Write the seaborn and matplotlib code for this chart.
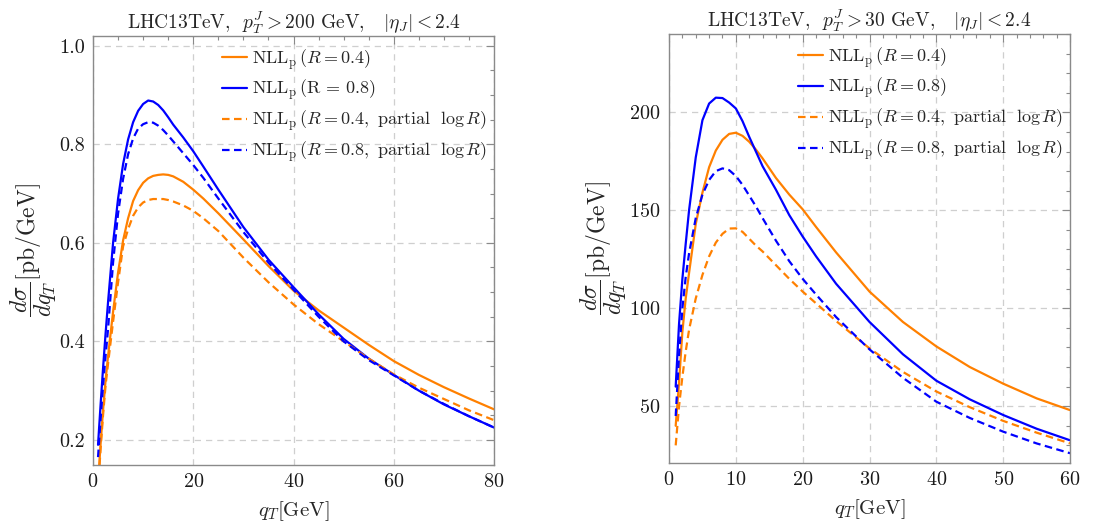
import matplotlib
matplotlib.use("Agg")
import matplotlib.pyplot as plt
from matplotlib.ticker import MultipleLocator
import pandas as pd
import seaborn as sns

# ── Data ─────────────────────────────────────────────────────────────────────

q_left = [1, 1.5, 2, 2.5, 3, 4, 5, 6, 7, 8, 9, 10, 11, 12, 13, 14, 15, 16,
          18, 20, 22, 25, 30, 35, 40, 45, 50, 55, 60, 65, 70, 75, 80]

left_r04 = [0.11, 0.19, 0.26, 0.32, 0.37, 0.46, 0.54, 0.605, 0.65, 0.685,
            0.707, 0.722, 0.731, 0.736, 0.738, 0.739, 0.738, 0.735, 0.724,
            0.708, 0.69, 0.66, 0.607, 0.553, 0.503, 0.463, 0.428, 0.393,
            0.36, 0.332, 0.307, 0.284, 0.262]
left_r08 = [0.19, 0.27, 0.345, 0.415, 0.48, 0.60, 0.69, 0.76, 0.81, 0.845,
            0.868, 0.882, 0.889, 0.887, 0.88, 0.869, 0.855, 0.84, 0.814,
            0.786, 0.755, 0.708, 0.632, 0.566, 0.51, 0.455, 0.405, 0.365,
            0.332, 0.30, 0.272, 0.248, 0.225]
left_r04_part = [0.10, 0.18, 0.25, 0.31, 0.355, 0.44, 0.52, 0.593, 0.628,
                 0.655, 0.672, 0.682, 0.687, 0.689, 0.689, 0.689, 0.687,
                 0.684, 0.676, 0.665, 0.65, 0.624, 0.57, 0.52, 0.475, 0.435,
                 0.40, 0.365, 0.333, 0.306, 0.283, 0.26, 0.24]
left_r08_part = [0.165, 0.24, 0.31, 0.37, 0.425, 0.56, 0.66, 0.73, 0.78,
                 0.812, 0.832, 0.841, 0.845, 0.844, 0.838, 0.829, 0.818,
                 0.806, 0.782, 0.758, 0.732, 0.69, 0.622, 0.56, 0.505, 0.45,
                 0.40, 0.362, 0.331, 0.30, 0.273, 0.248, 0.225]

q_right = [1, 1.5, 2, 2.5, 3, 4, 5, 6, 7, 8, 9, 10, 11, 12, 13, 14, 16, 18,
           20, 22, 25, 30, 35, 40, 45, 50, 55, 60]

right_r04 = [40, 62, 88, 105, 118, 143, 159, 172, 180.5, 186, 189, 189.6,
             188, 185, 181, 176.5, 166.5, 158, 150.5, 141.5, 128.5, 108.5,
             93, 80.5, 70, 61.5, 54, 48]
right_r08 = [60, 92, 115, 133, 150, 177, 196, 204.5, 207.5, 207.3, 205,
             202, 195.5, 187.5, 180, 172.5, 160.5, 147.5, 136.6, 126.5,
             112.5, 93, 76.5, 63, 53.5, 45.5, 38.5, 32.6]
right_r04_part = [30, 50, 65, 78, 89, 105, 117, 126.5, 133.5, 138, 140.7,
                  140.8, 139, 135.5, 132, 129, 122, 115, 108.5, 102.5, 93.5,
                  79.5, 67.5, 57.5, 49.5, 42.5, 36.5, 31]
right_r08_part = [45, 76, 100, 116, 128, 146, 158, 165.5, 170, 171.4, 170.5,
                  167.5, 163, 157.5, 152, 146, 134.5, 124, 115, 107, 95.5,
                  79, 64.5, 52.3, 44, 37, 31, 26]

ORANGE = "#FF8000"
BLUE = "#0000FF"
DASH = (0, (3.4, 2.0))

NLL = r"$\mathrm{NLL}_{\mathrm{p}}\,"


def draw_panel(ax, q, series, labels, title, xlim, ylim, xmaj, xmin, ymin,
               yticks, ylab_x):
    styles = [(ORANGE, "-"), (BLUE, "-"), (ORANGE, DASH), (BLUE, DASH)]
    for vals, lab, (col, ls) in zip(series, labels, styles):
        df = pd.DataFrame({"qT": q, "val": vals})
        sns.lineplot(data=df, x="qT", y="val", ax=ax, color=col,
                     linestyle=ls, linewidth=1.6, label=lab)

    ax.set_xlim(*xlim)
    ax.set_ylim(*ylim)
    ax.xaxis.set_major_locator(MultipleLocator(xmaj))
    ax.xaxis.set_minor_locator(MultipleLocator(xmin))
    ax.set_yticks(yticks)
    ax.yaxis.set_minor_locator(MultipleLocator(ymin))
    ax.grid(True, which="major", color="#cfcfcf", linestyle=(0, (5, 4)),
            linewidth=0.9)
    ax.tick_params(which="both", direction="in", top=True, right=True,
                   color="#8a8a8a", width=0.8, labelsize=14.5,
                   labelcolor="#1a1a1a", pad=6)
    ax.tick_params(which="major", length=6)
    ax.tick_params(which="minor", length=3)
    for sp in ax.spines.values():
        sp.set_color("#8a8a8a")
        sp.set_linewidth(1.0)

    ax.set_title(title, fontsize=14, pad=5)
    ax.set_xlabel(r"$q_T[\mathrm{GeV}]$", fontsize=15, labelpad=6)
    ax.set_ylabel(r"$\dfrac{d\sigma}{dq_T}[\mathrm{pb/GeV}]$", fontsize=17)
    ax.yaxis.set_label_coords(ylab_x, 0.5)

    ax.legend(loc="upper left", bbox_to_anchor=(0.322, 0.975), frameon=False,
              fontsize=13, handlelength=1.4, handletextpad=0.25,
              labelspacing=0.32, borderaxespad=0, borderpad=0)


def main() -> None:
    sns.set_theme(style="white")
    plt.rcParams["font.family"] = ["cmr10", "DejaVu Serif"]
    plt.rcParams["mathtext.fontset"] = "cm"
    plt.rcParams["axes.formatter.use_mathtext"] = True
    plt.rcParams["axes.unicode_minus"] = False

    fig = plt.figure(figsize=(11.18, 5.24), dpi=100)
    ax1 = fig.add_axes([0.0832, 0.1126, 0.3587, 0.8187])
    ax2 = fig.add_axes([0.5984, 0.1164, 0.3587, 0.8187])

    draw_panel(
        ax1, q_left,
        [left_r04, left_r08, left_r04_part, left_r08_part],
        [NLL + r"(R=0.4)$",
         NLL + r"(\mathrm{R}\,=\,0.8)$",
         NLL + r"(R=0.4,\ \mathrm{partial}\ \ \log R)$",
         NLL + r"(R=0.8,\ \mathrm{partial}\ \ \log R)$"],
        r"LHC13TeV,  $p_T^J>200$ GeV,   $|\eta_J|<2.4$",
        (0, 80), (0.149, 1.02), 20, 5, 0.05,
        [0.2, 0.4, 0.6, 0.8, 1.0], -0.085,
    )
    ax1.set_yticklabels(["0.2", "0.4", "0.6", "0.8", "1.0"])

    draw_panel(
        ax2, q_right,
        [right_r04, right_r08, right_r04_part, right_r08_part],
        [NLL + r"(R=0.4)$",
         NLL + r"(R=0.8)$",
         NLL + r"(R=0.4,\ \mathrm{partial}\ \ \log R)$",
         NLL + r"(R=0.8,\ \mathrm{partial}\ \ \log R)$"],
        r"LHC13TeV,  $p_T^J>30$ GeV,   $|\eta_J|<2.4$",
        (0, 60), (21, 240), 10, 2, 10,
        [50, 100, 150, 200], -0.1,
    )

    fig.savefig("out.png", dpi=100)
    plt.close(fig)


if __name__ == "__main__":
    main()
